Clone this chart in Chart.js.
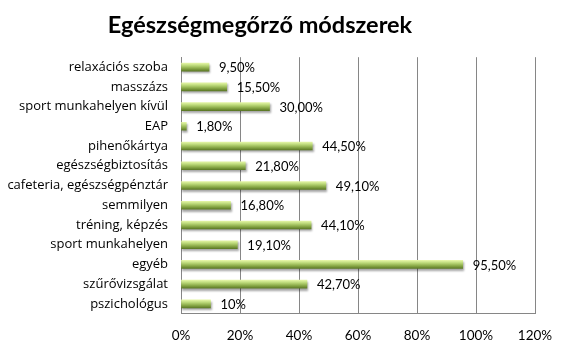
<!DOCTYPE html>
<html>
<head>
<meta charset="utf-8">
<script src="https://cdn.jsdelivr.net/npm/chart.js@4"></script>
<style>
  html, body { margin: 0; padding: 0; background: #fff; }
  #wrap { width: 568px; height: 358px; }
</style>
</head>
<body>
<div id="wrap"><canvas id="methods-chart" width="568" height="358"></canvas></div>
<script>
const categories = ["relaxációs szoba", "masszázs", "sport munkahelyen kívül", "EAP",
  "pihenőkártya", "egészségbiztosítás", "cafeteria, egészségpénztár", "semmilyen",
  "tréning, képzés", "sport munkahelyen", "egyéb", "szűrővizsgálat", "pszichológus"];
const percents = [9.5, 15.5, 30, 1.8, 44.5, 21.8, 49.1, 16.8, 44.1, 19.1, 95.5, 42.7, 10];
const valueLabels = ["9,50%", "15,50%", "30,00%", "1,80%", "44,50%", "21,80%", "49,10%",
  "16,80%", "44,10%", "19,10%", "95,50%", "42,70%", "10%"];
const xTicks = [0, 20, 40, 60, 80, 100, 120];

const barSize = 8;

// green "cylinder" look, one gradient per bar
const barFill = ctx => {
  const chart = ctx.chart;
  const y = chart.scales.y ? chart.scales.y.getPixelForValue(ctx.dataIndex) : null;
  if (y == null || isNaN(y)) return '#9bbb59';
  const g = chart.ctx.createLinearGradient(0, y - barSize / 2, 0, y + barSize / 2);
  g.addColorStop(0, '#e4f5a6');
  g.addColorStop(0.3, '#bcd97a');
  g.addColorStop(0.65, '#8cac4a');
  g.addColorStop(1, '#5d7a26');
  return g;
};

const barShadow = {
  id: 'barShadow',
  beforeDatasetDraw(chart) {
    const c = chart.ctx;
    c.save();
    c.shadowColor = 'rgba(0,0,0,0.35)';
    c.shadowOffsetX = 1;
    c.shadowOffsetY = 2;
    c.shadowBlur = 2;
  },
  afterDatasetDraw(chart) {
    chart.ctx.restore();
  }
};

// the title in the original sits a bit left of the page centre
const titleShift = {
  id: 'titleShift',
  afterLayout(chart) {
    if (chart.titleBlock) chart.titleBlock.right = 518;
  }
};

const valueText = {
  id: 'valueText',
  afterDatasetsDraw(chart) {
    const c = chart.ctx;
    c.save();
    c.font = '13px Lato';
    c.fillStyle = '#000';
    c.textAlign = 'left';
    c.textBaseline = 'middle';
    chart.getDatasetMeta(0).data.forEach((bar, i) => {
      c.fillText(valueLabels[i], bar.x + 10, bar.y + 1);
    });
    c.restore();
  }
};

new Chart(document.getElementById('methods-chart'), {
  type: 'bar',
  data: {
    labels: categories,
    datasets: [{
      data: percents,
      backgroundColor: barFill,
      borderWidth: 0,
      barThickness: barSize
    }]
  },
  options: {
    indexAxis: 'y',
    responsive: false,
    animation: false,
    layout: { padding: { top: 0, right: 33, bottom: 0, left: 2 } },
    plugins: {
      legend: { display: false },
      tooltip: { enabled: false },
      title: {
        display: true,
        text: 'Egészségmegőrző módszerek',
        color: '#000',
        font: { family: 'Lato', size: 23.5, weight: 'bold' },
        padding: { top: 11, bottom: 18 }
      }
    },
    scales: {
      x: {
        min: 0,
        max: 120,
        afterBuildTicks: axis => { axis.ticks = xTicks.map(v => ({ value: v })); },
        ticks: {
          color: '#000',
          font: { family: 'Lato', size: 13.5 },
          padding: 14,
          callback: v => v + '%'
        },
        grid: { color: '#868686', drawTicks: false },
        border: { color: '#868686' }
      },
      y: {
        afterFit: axis => { axis.width = 179; },
        ticks: {
          color: '#000',
          font: { family: 'Open Sans', size: 13 },
          padding: 13,
          autoSkip: false
        },
        grid: { display: false, drawTicks: false },
        border: { color: '#868686' }
      }
    }
  },
  plugins: [barShadow, titleShift, valueText]
});
</script>
</body>
</html>
